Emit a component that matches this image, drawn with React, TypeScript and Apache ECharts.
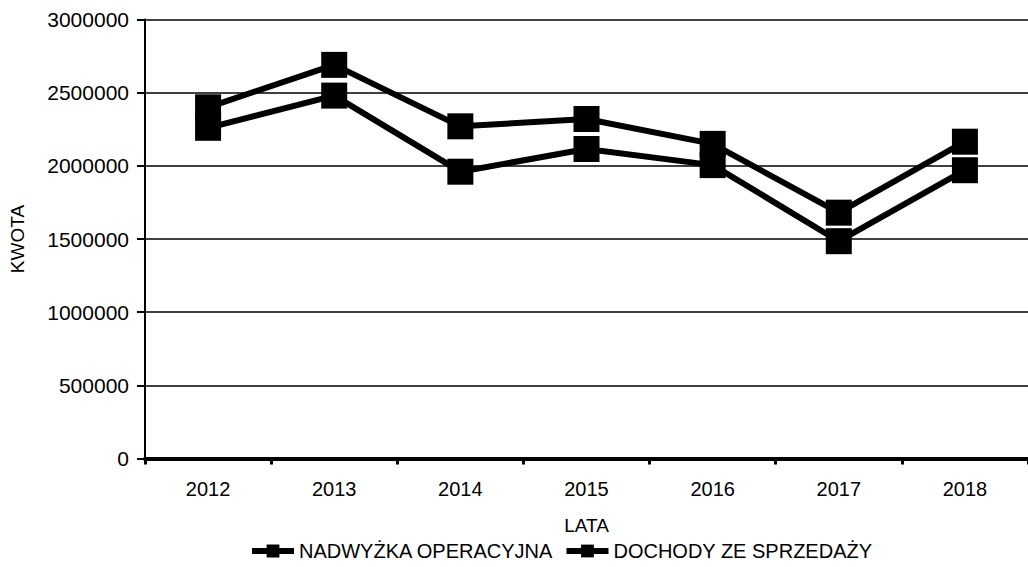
import React, { useEffect, useRef } from "react";
import * as echarts from "echarts";

const years = ["2012", "2013", "2014", "2015", "2016", "2017", "2018"];
const nadwyzka = [2400000, 2690000, 2270000, 2320000, 2150000, 1680000, 2165000];
const dochody = [2260000, 2480000, 1960000, 2115000, 2005000, 1485000, 1970000];
const seriesNames = ["NADWYŻKA OPERACYJNA", "DOCHODY ZE SPRZEDAŻY"];

const FONT = "'Liberation Sans', Arial, sans-serif";

export default function App() {
  const ref = useRef<HTMLDivElement>(null);
  useEffect(() => {
    if (!ref.current) return;
    const chart = echarts.init(ref.current, undefined, { renderer: "svg" });
    const lineSeries = (name: string, data: number[]) => ({
      name,
      type: "line",
      data,
      symbol: "rect",
      symbolSize: 26,
      lineStyle: { color: "#000", width: 6 },
      itemStyle: { color: "#000" },
      z: 3,
    });
    chart.setOption({
      animation: false,
      backgroundColor: "#fff",
      textStyle: { fontFamily: FONT, color: "#000" },
      grid: { left: 144, width: 893, top: 19.5, bottom: 108.5, containLabel: false },
      legend: {
        left: 244,
        top: 536,
        itemWidth: 42,
        itemHeight: 16,
        itemGap: 10,
        lineStyle: { width: 6, color: "#000" },
        itemStyle: { color: "#000" },
        textStyle: { fontFamily: FONT, fontSize: 20, color: "#000" },
        data: seriesNames,
      },
      xAxis: {
        type: "category",
        data: years,
        boundaryGap: true,
        name: "LATA",
        nameLocation: "middle",
        nameGap: 57,
        nameTextStyle: { fontFamily: FONT, fontSize: 19, color: "#000" },
        axisLine: { lineStyle: { color: "#000", width: 4 } },
        axisTick: { show: true, length: 6, lineStyle: { color: "#000", width: 3 } },
        axisLabel: { fontFamily: FONT, fontSize: 20, color: "#000", margin: 20 },
      },
      yAxis: {
        type: "value",
        min: 0,
        max: 3000000,
        interval: 500000,
        name: "KWOTA",
        nameLocation: "middle",
        nameRotate: 90,
        nameGap: 118,
        nameTextStyle: { fontFamily: FONT, fontSize: 19, color: "#000" },
        axisLine: { show: true, lineStyle: { color: "#000", width: 2 } },
        axisTick: { show: true, length: 8, lineStyle: { color: "#000", width: 2 } },
        axisLabel: {
          fontFamily: FONT,
          fontSize: 21,
          color: "#000",
          margin: 16,
          formatter: (v: number) => String(v),
        },
        splitLine: { show: true, lineStyle: { color: "#000", width: 1.5 } },
      },
      series: [lineSeries(seriesNames[0], nadwyzka), lineSeries(seriesNames[1], dochody)],
    });
    return () => chart.dispose();
  }, []);
  return (
    <div
      ref={ref}
      style={{ position: "fixed", left: 0, top: 0, width: 1028, height: 567 }}
    />
  );
}
